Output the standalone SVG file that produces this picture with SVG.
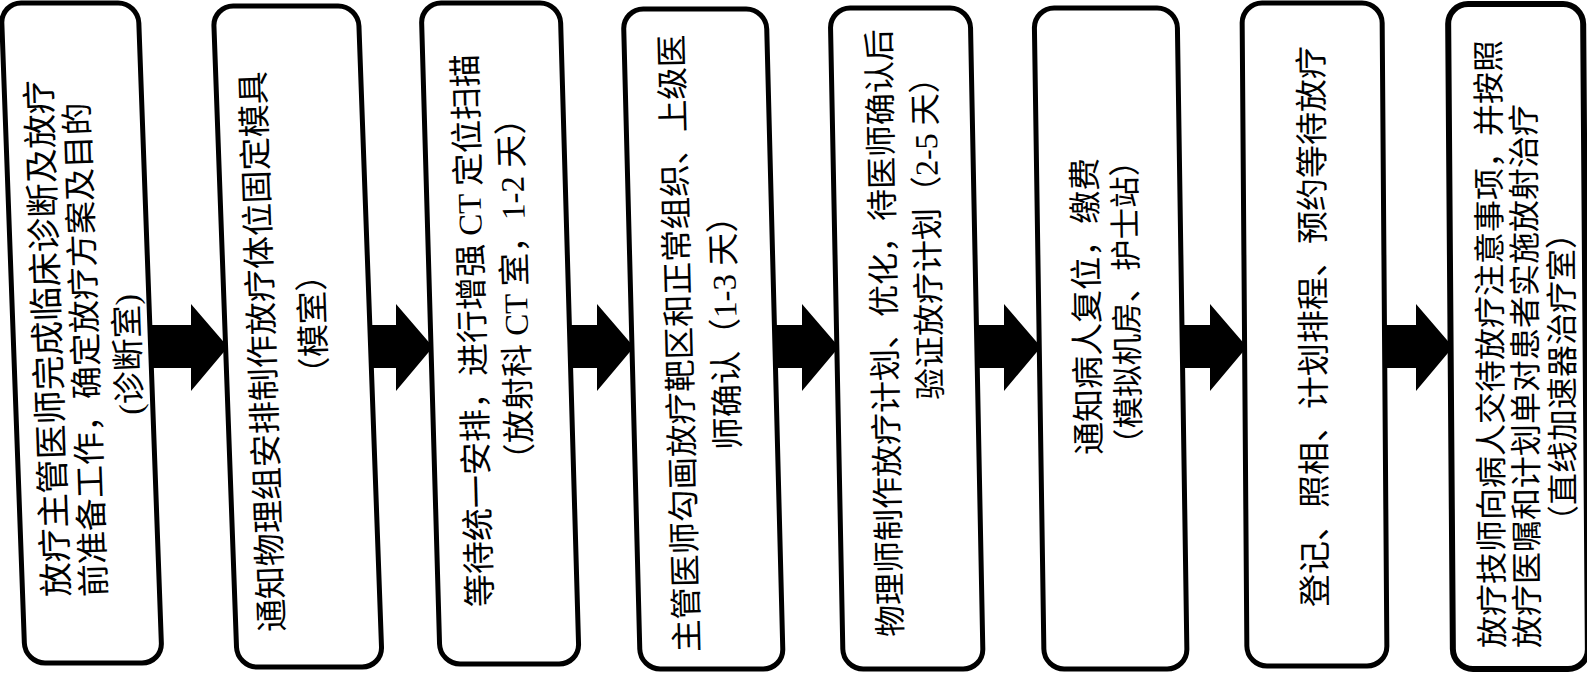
<svg xmlns="http://www.w3.org/2000/svg" width="1587" height="675" viewBox="0 0 1587 675">
<style>
.box{fill:#fff;stroke:#000;stroke-width:5}
.t{font-family:"Liberation Serif","Noto Sans CJK SC",sans-serif;font-size:33px;fill:#000;dominant-baseline:central}
.s{font-size:32px}
.l{font-size:34.5px}
.arr{fill:#000}
</style>
<rect width="1587" height="675" fill="#fff"/>
<g id="connectors">
<polygon class="arr" points="148,325 191,325 191,304 228,347 191,391 191,368 148,368"/>
<polygon class="arr" points="368,325 396,325 396,304 433,347 396,391 396,368 368,368"/>
<polygon class="arr" points="568,325 597,325 597,304 634,347 597,391 597,368 568,368"/>
<polygon class="arr" points="773,325 802,325 802,304 839,347 802,391 802,368 773,368"/>
<polygon class="arr" points="975,325 1004,325 1004,304 1041,347 1004,391 1004,368 975,368"/>
<polygon class="arr" points="1180,325 1210,325 1210,304 1247,347 1210,391 1210,368 1180,368"/>
<polygon class="arr" points="1383,325 1416,325 1416,304 1453,347 1416,391 1416,368 1383,368"/>
</g>
<g id="n1">
<g transform="skewX(2.08)"><rect class="box" x="1" y="3" width="137" height="660" rx="20"/></g>
<text class="t l" transform="translate(57,597) rotate(-92)">放疗主管医师完成临床诊断及放疗</text>
<text class="t" transform="translate(95,597) rotate(-92)">前准备工作，确定放疗方案及目的</text>
<text class="t" transform="translate(131,415) rotate(-92)">(诊断室)</text>
</g>
<g id="n2">
<g transform="skewX(2.08)"><rect class="box" x="213" y="6" width="145" height="661" rx="20"/></g>
<text class="t" transform="translate(273,632) rotate(-92)">通知物理组安排制作放疗体位固定模具</text>
<text class="t" transform="translate(316,390) rotate(-92)">（模室）</text>
</g>
<g id="n3">
<g transform="skewX(1.65)"><rect class="box" x="421" y="3" width="139" height="661" rx="20"/></g>
<text class="t" transform="translate(481,607) rotate(-91.6)">等待统一安排，进行增强 CT 定位扫描</text>
<text class="t" transform="translate(521,476) rotate(-91.6)">（放射科 CT 室，1-2 天）</text>
</g>
<g id="n4">
<g transform="skewX(1.48)"><rect class="box" x="623" y="9" width="143" height="660" rx="20"/></g>
<text class="t" style="font-size:32.5px" transform="translate(688,652) rotate(-91.5)">主管医师勾画放疗靶区和正常组织、上级医</text>
<text class="t" transform="translate(729,450) rotate(-91.5)">师确认（1-3 天）</text>
</g>
<g id="n5">
<g transform="skewX(1.13)"><rect class="box" x="830" y="8" width="140" height="661" rx="20"/></g>
<text class="t s" transform="translate(891,637) rotate(-91.1)">物理师制作放疗计划、优化，待医师确认后</text>
<text class="t s" transform="translate(931,400) rotate(-91.1)">验证放疗计划（2-5 天）</text>
</g>
<g id="n6">
<g transform="skewX(0.87)"><rect class="box" x="1034" y="8" width="143" height="661" rx="20"/></g>
<text class="t" transform="translate(1090,455) rotate(-90.9)">通知病人复位，缴费</text>
<text class="t" style="font-size:31.5px" transform="translate(1130,460) rotate(-90.9)">（模拟机房、护士站）</text>
</g>
<g id="n7">
<g transform="skewX(0.43)"><rect class="box" x="1242" y="3" width="140" height="663" rx="20"/></g>
<text class="t" transform="translate(1316,607) rotate(-90.4)">登记、照相、计划排程、预约等待放疗</text>
</g>
<g id="n8">
<g transform="skewX(0.43)"><rect class="box" x="1448" y="4" width="135" height="665" rx="20" style="stroke-width:6"/></g>
<text class="t s" transform="translate(1493,648) rotate(-90.4)">放疗技师向病人交待放疗注意事项，并按照</text>
<text class="t s" transform="translate(1528,648) rotate(-90.4)">放疗医嘱和计划单对患者实施放射治疗</text>
<text class="t s" transform="translate(1564,537) rotate(-90.4)">（直线加速器治疗室）</text>
</g>
</svg>
